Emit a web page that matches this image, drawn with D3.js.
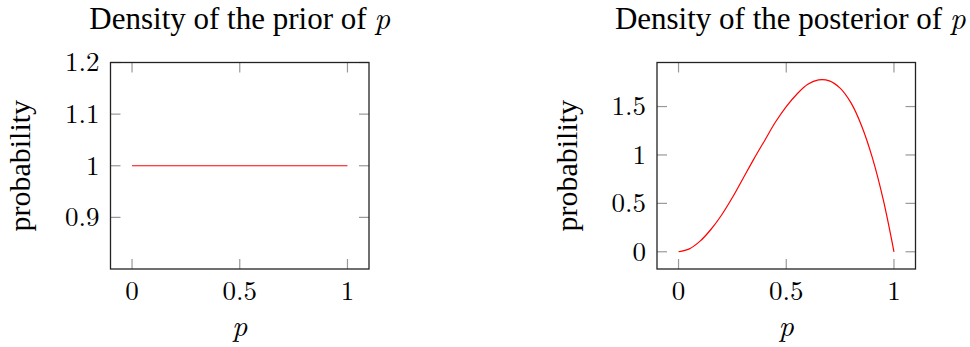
<!DOCTYPE html>
<html>
<head>
<meta charset="utf-8">
<script src="https://cdn.jsdelivr.net/npm/d3@7"></script>
<style>
  html, body { margin: 0; padding: 0; background: #fff; }
</style>
</head>
<body>
<svg id="chart" width="970" height="347"></svg>
<script>
// prior: flat density on [0, 1]
const priorP = [0, 1];
const priorDensity = [1, 1];

// posterior: values
const postP = [0, 0.05, 0.1, 0.15, 0.2, 0.25, 0.3, 0.35, 0.4, 0.45, 0.5,
  0.55, 0.6, 0.65, 0.7, 0.75, 0.8, 0.85, 0.9, 0.95, 1];
const postDensity = [0, 0.03, 0.11, 0.23, 0.38, 0.56, 0.76, 0.96, 1.15, 1.34, 1.5,
  1.63, 1.73, 1.775, 1.765, 1.69, 1.54, 1.30, 0.97, 0.54, 0];

const xTicks = [0, 0.5, 1];
const priorYTicks = [0.9, 1, 1.1, 1.2];
const postYTicks = [0, 0.5, 1, 1.5];

const TEXT_FONT = '"Liberation Serif", "Times New Roman", serif';
const MATH_FONT = '"Latin Modern Roman", "Liberation Serif", serif';

const svg = d3.select('#chart');

function panel(opts) {
  const { left, top, w, h, xDomain, yDomain, yTicks, xs, ys, title } = opts;

  const x = d3.scaleLinear().domain(xDomain).range([left, left + w]);
  const y = d3.scaleLinear().domain(yDomain).range([top + h, top]);
  const g = svg.append('g');
  const tickLen = 10;

  // tick marks, inside the frame on all four sides
  xTicks.forEach(t => {
    g.append('line').attr('x1', x(t)).attr('x2', x(t))
      .attr('y1', top).attr('y2', top + tickLen)
      .attr('stroke', '#999').attr('stroke-width', 1.2);
    g.append('line').attr('x1', x(t)).attr('x2', x(t))
      .attr('y1', top + h).attr('y2', top + h - tickLen)
      .attr('stroke', '#999').attr('stroke-width', 1.2);
    g.append('text')
      .attr('x', x(t)).attr('y', top + h + 31)
      .attr('text-anchor', 'middle').attr('font-size', 27)
      .style('font-family', MATH_FONT)
      .text(t);
  });
  yTicks.forEach(t => {
    g.append('line').attr('x1', left).attr('x2', left + tickLen)
      .attr('y1', y(t)).attr('y2', y(t))
      .attr('stroke', '#999').attr('stroke-width', 1.2);
    g.append('line').attr('x1', left + w).attr('x2', left + w - tickLen)
      .attr('y1', y(t)).attr('y2', y(t))
      .attr('stroke', '#999').attr('stroke-width', 1.2);
    g.append('text')
      .attr('x', left - 11).attr('y', y(t))
      .attr('dy', '0.33em')
      .attr('text-anchor', 'end').attr('font-size', 27)
      .style('font-family', MATH_FONT)
      .text(t);
  });

  // curve
  const line = d3.line()
    .x(i => x(xs[i]))
    .y(i => y(ys[i]))
    .curve(d3.curveCatmullRom.alpha(0.5));
  g.append('path')
    .attr('d', line(d3.range(xs.length)))
    .attr('fill', 'none')
    .attr('stroke', '#ff0000')
    .attr('stroke-width', 1.2);

  // frame
  g.append('rect')
    .attr('x', left).attr('y', top).attr('width', w).attr('height', h)
    .attr('fill', 'none').attr('stroke', '#222').attr('stroke-width', 1.3);

  // labels
  const tt = g.append('text')
    .attr('x', left + w / 2 + opts.titleShift).attr('y', 28.5)
    .attr('text-anchor', 'middle').attr('font-size', 31)
    .style('font-family', TEXT_FONT)
    .text(title + ' ');
  tt.append('tspan')
    .style('font-family', MATH_FONT).style('font-style', 'italic')
    .text('p');

  g.append('text')
    .attr('x', left + w / 2).attr('y', top + h + 67)
    .attr('text-anchor', 'middle').attr('font-size', 30)
    .style('font-family', MATH_FONT).style('font-style', 'italic')
    .text('p');

  g.append('text')
    .attr('transform', `translate(${opts.yLabelX},${top + h / 2}) rotate(-90)`)
    .attr('text-anchor', 'middle').attr('font-size', 30)
    .style('font-family', TEXT_FONT)
    .text('probability');
}

panel({
  left: 110.5, top: 62.5, w: 258.5, h: 206.5,
  xDomain: [-0.1, 1.1], yDomain: [0.8, 1.2],
  yTicks: priorYTicks, xs: priorP, ys: priorDensity,
  title: 'Density of the prior of', yLabelX: 30, titleShift: 0
});

panel({
  left: 657, top: 62.5, w: 258.5, h: 206.5,
  xDomain: [-0.1, 1.1], yDomain: [-0.178, 1.955],
  yTicks: postYTicks, xs: postP, ys: postDensity,
  title: 'Density of the posterior of', yLabelX: 577, titleShift: 4
});
</script>
</body>
</html>
